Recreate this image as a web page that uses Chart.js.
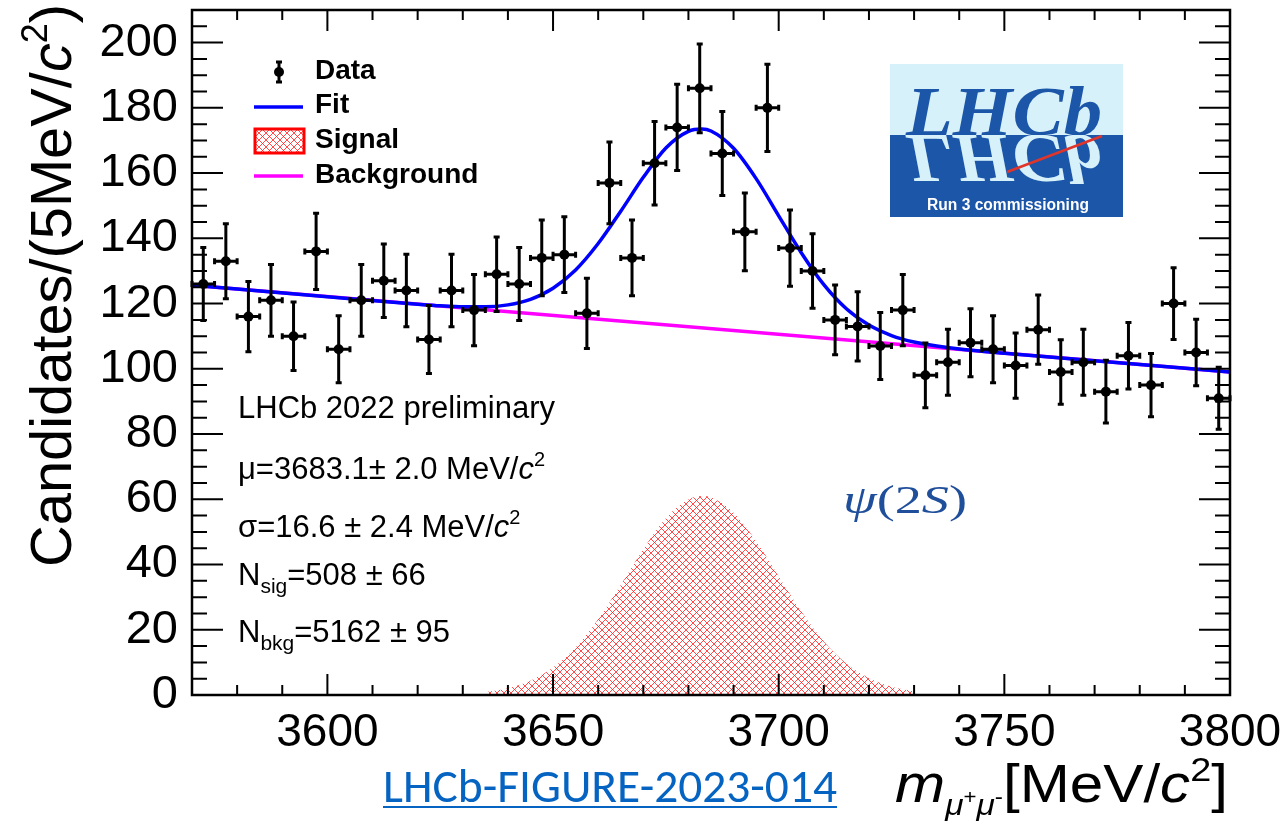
<!DOCTYPE html>
<html lang="en">
<head>
<meta charset="UTF-8">
<title>psi(2S) mass fit</title>
<script src="https://cdn.jsdelivr.net/npm/chart.js@4.4.1/dist/chart.umd.min.js"></script>
<style>
  html, body { margin: 0; padding: 0; background: #fff; }
  canvas { display: block; }
</style>
</head>
<body>
<canvas id="massChart" width="1288" height="824"></canvas>
<script>
// histogram of the dimuon mass, 5 MeV bins
const massBins = [3572.5, 3577.5, 3582.5, 3587.5, 3592.5, 3597.5, 3602.5, 3607.5, 3612.5, 3617.5,
                  3622.5, 3627.5, 3632.5, 3637.5, 3642.5, 3647.5, 3652.5, 3657.5, 3662.5, 3667.5,
                  3672.5, 3677.5, 3682.5, 3687.5, 3692.5, 3697.5, 3702.5, 3707.5, 3712.5, 3717.5,
                  3722.5, 3727.5, 3732.5, 3737.5, 3742.5, 3747.5, 3752.5, 3757.5, 3762.5, 3767.5,
                  3772.5, 3777.5, 3782.5, 3787.5, 3792.5, 3797.5];
const counts = [126, 133, 116, 121, 110, 136, 106, 121, 127, 124,
                109, 124, 118, 129, 126, 134, 135, 117, 157, 134,
                163, 174, 186, 166, 142, 180, 137, 130, 115, 113,
                107, 118, 98, 102, 108, 106, 101, 112, 99, 102,
                93, 104, 95, 120, 105, 91];
const countErrors = [11.2, 11.5, 10.8, 11.0, 10.5, 11.7, 10.3, 11.0, 11.3, 11.1,
                     10.4, 11.1, 10.9, 11.4, 11.2, 11.6, 11.6, 10.8, 12.5, 11.6,
                     12.8, 13.2, 13.6, 12.9, 11.9, 13.4, 11.7, 11.4, 10.7, 10.6,
                     10.3, 10.9, 9.9, 10.1, 10.4, 10.3, 10.0, 10.6, 9.9, 10.1,
                     9.6, 10.2, 9.7, 11.0, 10.2, 9.5];
const binHalfWidth = 2.5;

// total fit curve
const fitMass = [3570, 3600, 3620, 3625, 3630, 3635, 3640, 3645, 3650, 3655, 3660, 3665, 3670, 3675,
                 3680, 3683, 3685, 3690, 3695, 3700, 3705, 3710, 3715, 3720, 3725, 3730, 3735, 3740,
                 3750, 3770, 3800];
const fitTotal = [125.6, 122.1, 119.8, 119.3, 119.0, 119.0, 119.6, 121.3, 124.7, 130.3, 138.4, 148.3, 158.7, 167.7,
                  172.8, 173.5, 172.9, 167.6, 158.3, 146.9, 135.6, 125.8, 118.4, 113.4, 110.2, 108.2, 107.0, 106.1,
                  104.8, 102.5, 99.0];

// linear background
const bkgMass = [3570, 3800];
const bkgValues = [125.6, 99.0];

// signal component
const sigMass = [3635, 3640, 3645, 3650, 3655, 3660, 3665, 3670, 3675, 3680, 3683,
                 3685, 3690, 3695, 3700, 3705, 3710, 3715, 3720, 3725, 3730];
const sigValues = [0.9, 2.1, 4.4, 8.4, 14.6, 23.2, 33.7, 44.7, 54.2, 59.9, 61.0,
                   60.6, 55.9, 47.2, 36.3, 25.6, 16.4, 9.6, 5.2, 2.5, 1.1];

const xTickValues = [3600, 3650, 3700, 3750, 3800];
const yTickValues = [0, 20, 40, 60, 80, 100, 120, 140, 160, 180, 200];

const FONT = "'Liberation Sans', Arial, Helvetica, sans-serif";
const SERIF = "'Liberation Serif', 'Times New Roman', serif";

// red cross-hatch used for the signal area
function makeHatch() {
  const c = document.createElement('canvas');
  c.width = 7; c.height = 7;
  const g = c.getContext('2d');
  g.strokeStyle = 'rgba(255, 30, 30, 0.8)';
  g.lineWidth = 1;
  g.beginPath();
  g.moveTo(0, 0); g.lineTo(7, 7);
  g.moveTo(0, 7); g.lineTo(7, 0);
  g.stroke();
  return g.createPattern(c, 'repeat');
}
const hatch = makeHatch();

// draws text made of several pieces (sub/superscripts, italics), optionally squeezed to a width
function drawRich(ctx, parts, x, y, fitWidth) {
  let total = 0;
  parts.forEach(p => {
    ctx.font = p.font;
    p.w = ctx.measureText(p.t).width;
    total += p.w;
  });
  const k = fitWidth ? fitWidth / total : 1;
  ctx.save();
  ctx.translate(x, y);
  ctx.scale(k, 1);
  let cx = 0;
  parts.forEach(p => {
    ctx.font = p.font;
    ctx.fillText(p.t, cx, p.dy || 0);
    cx += p.w;
  });
  ctx.restore();
}

const errorBars = {
  id: 'errorBars',
  afterDatasetsDraw(chart) {
    const { ctx, scales: { x, y } } = chart;
    ctx.save();
    ctx.strokeStyle = '#000';
    ctx.lineWidth = 3;
    ctx.beginPath();
    massBins.forEach((m, i) => {
      const px = x.getPixelForValue(m);
      const py = y.getPixelForValue(counts[i]);
      const top = y.getPixelForValue(counts[i] + countErrors[i]);
      const bot = y.getPixelForValue(counts[i] - countErrors[i]);
      const l = x.getPixelForValue(m - binHalfWidth);
      const r = x.getPixelForValue(m + binHalfWidth);
      ctx.moveTo(px, top); ctx.lineTo(px, bot);
      ctx.moveTo(l, py); ctx.lineTo(r, py);
      ctx.moveTo(px - 3, top); ctx.lineTo(px + 3, top);
      ctx.moveTo(px - 3, bot); ctx.lineTo(px + 3, bot);
      ctx.moveTo(l, py - 3); ctx.lineTo(l, py + 3);
      ctx.moveTo(r, py - 3); ctx.lineTo(r, py + 3);
    });
    ctx.stroke();
    ctx.restore();
  }
};

// ROOT style frame with inward ticks on all four sides
const frameTicks = {
  id: 'frameTicks',
  afterDatasetsDraw(chart) {
    const { ctx, chartArea: a, scales: { x, y } } = chart;
    ctx.save();
    ctx.strokeStyle = '#000';
    ctx.lineWidth = 2;
    ctx.beginPath();
    for (let v = 5; v < y.max; v += 5) {
      const len = v % 20 === 0 ? 31 : 15;
      const py = y.getPixelForValue(v);
      ctx.moveTo(a.left, py); ctx.lineTo(a.left + len, py);
      ctx.moveTo(a.right, py); ctx.lineTo(a.right - len, py);
    }
    for (let v = 3580; v < x.max; v += 10) {
      const len = v % 50 === 0 ? 21 : 10;
      const px = x.getPixelForValue(v);
      ctx.moveTo(px, a.top); ctx.lineTo(px, a.top + len);
      ctx.moveTo(px, a.bottom); ctx.lineTo(px, a.bottom - len);
    }
    ctx.stroke();
    ctx.lineWidth = 2.5;
    ctx.strokeRect(a.left, a.top, a.right - a.left, a.bottom - a.top);
    ctx.restore();
  }
};

function drawLogo(ctx) {
  const L = 890, T = 64, R = 1123, M = 135, B = 217;
  const dark = '#1c56a9', light = '#d6f1fa';
  ctx.fillStyle = light;
  ctx.fillRect(L, T, R - L, M - T);
  ctx.fillStyle = dark;
  ctx.fillRect(L, M, R - L, B - M);

  ctx.font = 'bold italic 70px ' + SERIF;
  const w = ctx.measureText('LHCb').width;
  const sx = 196 / w;

  ctx.save();
  ctx.beginPath(); ctx.rect(L, T, R - L, M - T); ctx.clip();
  ctx.fillStyle = dark;
  ctx.translate(906, M);
  ctx.scale(sx, 1);
  ctx.fillText('LHCb', 0, 0);
  ctx.restore();

  ctx.save();
  ctx.beginPath(); ctx.rect(L, M, R - L, B - M); ctx.clip();
  ctx.fillStyle = light;
  ctx.translate(906, M);
  ctx.scale(sx, -1);
  ctx.fillText('LHCb', 0, 0);
  ctx.restore();

  ctx.save();
  ctx.strokeStyle = '#e0352b';
  ctx.lineWidth = 2.5;
  ctx.beginPath();
  ctx.moveTo(1007, 172); ctx.lineTo(1102, 136);
  ctx.stroke();
  ctx.fillStyle = '#fff';
  ctx.font = 'bold 16px ' + FONT;
  ctx.textAlign = 'center';
  ctx.fillText('Run 3 commissioning', 1008, 210, 162);
  ctx.restore();
}

function drawLegend(ctx) {
  ctx.save();
  // Data
  ctx.strokeStyle = '#000'; ctx.lineWidth = 3;
  ctx.beginPath();
  ctx.moveTo(279, 62); ctx.lineTo(279, 82);
  ctx.moveTo(276, 62); ctx.lineTo(282, 62);
  ctx.moveTo(276, 82); ctx.lineTo(282, 82);
  ctx.stroke();
  ctx.fillStyle = '#000';
  ctx.beginPath(); ctx.arc(279, 72, 5, 0, Math.PI * 2); ctx.fill();
  // Fit
  ctx.strokeStyle = '#0000ff'; ctx.lineWidth = 3.5;
  ctx.beginPath(); ctx.moveTo(254, 107); ctx.lineTo(303, 107); ctx.stroke();
  // Signal
  ctx.fillStyle = hatch;
  ctx.fillRect(255, 129, 49, 24);
  ctx.strokeStyle = '#ff0000'; ctx.lineWidth = 3;
  ctx.strokeRect(255, 129, 49, 24);
  // Background
  ctx.strokeStyle = '#ff00ff'; ctx.lineWidth = 3.5;
  ctx.beginPath(); ctx.moveTo(254, 176); ctx.lineTo(303, 176); ctx.stroke();

  ctx.fillStyle = '#000';
  ctx.font = 'bold 28px ' + FONT;
  ctx.fillText('Data', 315, 79);
  ctx.fillText('Fit', 315, 113);
  ctx.fillText('Signal', 315, 148);
  ctx.fillText('Background', 315, 183);
  ctx.restore();
}

const annotations = {
  id: 'annotations',
  afterDraw(chart) {
    const ctx = chart.ctx;
    ctx.save();
    ctx.fillStyle = '#000';
    ctx.textBaseline = 'alphabetic';

    // y axis title, aligned to the top of the axis
    ctx.save();
    ctx.translate(71, 567);
    ctx.rotate(-Math.PI / 2);
    drawRich(ctx, [
      { t: 'Candidates/(5MeV/', font: '58px ' + FONT },
      { t: 'c', font: 'italic 58px ' + FONT },
      { t: '2', font: '36px ' + FONT, dy: -24 },
      { t: ')', font: '58px ' + FONT }
    ], 0, 0, 563);
    ctx.restore();

    // x axis title
    drawRich(ctx, [
      { t: 'm', font: 'italic 54px ' + FONT },
      { t: 'μ', font: 'italic 30px ' + FONT, dy: 13 },
      { t: '+', font: '20px ' + FONT, dy: 2 },
      { t: 'μ', font: 'italic 30px ' + FONT, dy: 13 },
      { t: '-', font: '22px ' + FONT, dy: 2 },
      { t: '[MeV/', font: '54px ' + FONT },
      { t: 'c', font: 'italic 54px ' + FONT },
      { t: '2', font: '34px ' + FONT, dy: -21 },
      { t: ']', font: '54px ' + FONT }
    ], 895, 802, 333);

    // fit results
    ctx.font = '31px ' + FONT;
    ctx.fillText('LHCb 2022 preliminary', 238, 418);
    drawRich(ctx, [
      { t: 'μ=3683.1± 2.0 MeV/', font: '31px ' + FONT },
      { t: 'c', font: 'italic 31px ' + FONT },
      { t: '2', font: '20px ' + FONT, dy: -13 }
    ], 238, 479);
    drawRich(ctx, [
      { t: 'σ=16.6 ± 2.4 MeV/', font: '31px ' + FONT },
      { t: 'c', font: 'italic 31px ' + FONT },
      { t: '2', font: '20px ' + FONT, dy: -13 }
    ], 238, 537);
    drawRich(ctx, [
      { t: 'N', font: '31px ' + FONT },
      { t: 'sig', font: '21px ' + FONT, dy: 8 },
      { t: '=508 ± 66', font: '31px ' + FONT }
    ], 238, 585);
    drawRich(ctx, [
      { t: 'N', font: '31px ' + FONT },
      { t: 'bkg', font: '21px ' + FONT, dy: 8 },
      { t: '=5162 ± 95', font: '31px ' + FONT }
    ], 238, 642);

    // resonance label
    ctx.fillStyle = '#1f4e9a';
    drawRich(ctx, [
      { t: 'ψ', font: 'italic 40px ' + SERIF },
      { t: '(2', font: '40px ' + SERIF },
      { t: 'S', font: 'italic 40px ' + SERIF },
      { t: ')', font: '40px ' + SERIF }
    ], 843, 513, 124);

    // figure reference
    ctx.fillStyle = '#0563c1';
    ctx.font = "48px Carlito, 'Liberation Sans Narrow', " + FONT;
    ctx.fillText('LHCb-FIGURE-2023-014', 383, 802, 454);
    ctx.fillRect(383, 806, 454, 2);

    drawLegend(ctx);
    drawLogo(ctx);
    ctx.restore();
  }
};

const ctx = document.getElementById('massChart').getContext('2d');
new Chart(ctx, {
  type: 'scatter',
  data: {
    datasets: [
      {
        label: 'Data',
        data: massBins.map((m, i) => ({ x: m, y: counts[i] })),
        pointRadius: 5,
        pointBackgroundColor: '#000',
        pointBorderWidth: 0,
        showLine: false,
        order: 0
      },
      {
        label: 'Fit',
        data: fitMass.map((m, i) => ({ x: m, y: fitTotal[i] })),
        showLine: true,
        borderColor: '#0000ff',
        borderWidth: 3.5,
        pointRadius: 0,
        cubicInterpolationMode: 'monotone',
        order: 1
      },
      {
        label: 'Background',
        data: bkgMass.map((m, i) => ({ x: m, y: bkgValues[i] })),
        showLine: true,
        borderColor: '#ff00ff',
        borderWidth: 3.5,
        pointRadius: 0,
        order: 2
      },
      {
        label: 'Signal',
        data: sigMass.map((m, i) => ({ x: m, y: sigValues[i] })),
        showLine: true,
        fill: 'origin',
        backgroundColor: hatch,
        borderWidth: 0,
        pointRadius: 0,
        cubicInterpolationMode: 'monotone',
        order: 3
      }
    ]
  },
  options: {
    responsive: false,
    animation: false,
    devicePixelRatio: 1,
    layout: { padding: { top: 10, right: 58, left: 0, bottom: 0 } },
    plugins: { legend: { display: false }, tooltip: { enabled: false } },
    scales: {
      x: {
        type: 'linear',
        min: 3570,
        max: 3800,
        grid: { display: false, drawTicks: false },
        border: { display: false },
        afterBuildTicks: s => { s.ticks = xTickValues.map(v => ({ value: v })); },
        ticks: {
          padding: 11,
          color: '#000',
          maxRotation: 0,
          autoSkip: false,
          font: { family: FONT, size: 46 },
          callback: v => String(v)
        },
        afterFit: s => { s.height = 129; s.paddingLeft = 0; s.paddingRight = 0; }
      },
      y: {
        type: 'linear',
        min: 0,
        max: 210,
        grid: { display: false, drawTicks: false },
        border: { display: false },
        afterBuildTicks: s => { s.ticks = yTickValues.map(v => ({ value: v })); },
        ticks: {
          padding: 14,
          color: '#000',
          autoSkip: false,
          font: { family: FONT, size: 47 },
          callback: v => String(v)
        },
        afterFit: s => { s.width = 192; s.paddingTop = 0; s.paddingBottom = 0; }
      }
    }
  },
  plugins: [errorBars, frameTicks, annotations]
});
</script>
</body>
</html>
